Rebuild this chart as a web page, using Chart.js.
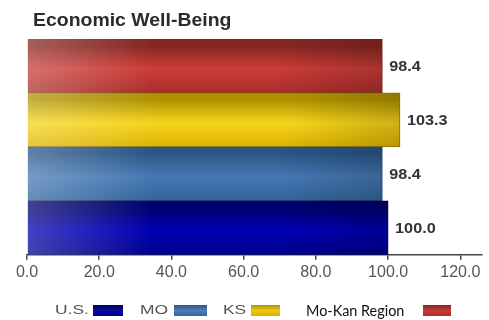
<!DOCTYPE html>
<html><head><meta charset="utf-8">
<script src="https://cdn.jsdelivr.net/npm/chart.js@4"></script>
<style>html,body{margin:0;padding:0;background:#fff}#wrap{width:489px;height:320px;position:relative}</style>
</head><body><div id="wrap"><canvas id="c"></canvas></div>
<script>
// Economic Well-Being index by area (U.S. = 100)
const categories = ['Mo-Kan Region', 'KS', 'MO', 'U.S.'];
const values = [98.4, 103.3, 98.4, 100.0];
const legendOrder = ['U.S.', 'MO', 'KS', 'Mo-Kan Region'];
const tickValues = [0, 20, 40, 60, 80, 100, 120];
const axisMax = 126;
const titleText = 'Economic Well-Being';

// shading for each bar: dark top edge, bright middle, darker bottom
const palettes = {
  'Mo-Kan Region': { top: '#862622', mid: '#cc3d38', bot: '#a82e2a', border: '#7e2420', swatch: '#c63c38' },
  'KS':            { top: '#ae9100', mid: '#f6d41c', bot: '#dcb200', border: '#9c8000', swatch: '#ecc714' },
  'MO':            { top: '#2b5586', mid: '#4579b4', bot: '#33649b', border: '#2a4f7e', swatch: '#4a7fc0' },
  'U.S.':          { top: '#00006c', mid: '#0000b6', bot: '#00008a', border: '#00006a', swatch: '#0a0a96' }
};

const FONT = "'Liberation Sans', Arial, sans-serif";

function barGradient(ctx) {
  const p = palettes[categories[ctx.dataIndex]];
  const chart = ctx.chart;
  const area = chart.chartArea;
  if (!area || !chart.scales.y) return p.mid;
  const c = chart.scales.y.getPixelForValue(ctx.dataIndex);
  const half = (area.bottom - area.top) / categories.length / 2;
  const g = chart.ctx.createLinearGradient(0, c - half, 0, c + half);
  g.addColorStop(0, p.top);
  g.addColorStop(0.12, p.top);
  g.addColorStop(0.55, p.mid);
  g.addColorStop(1, p.bot);
  return g;
}

// text drawn slightly widened horizontally
function wideText(ctx, text, x, y, sx) {
  ctx.save();
  ctx.translate(x, y);
  ctx.scale(sx, 1);
  ctx.fillText(text, 0, 0);
  ctx.restore();
}

// light sheen on the left end and darker right end of each bar
const sheen = {
  id: 'sheen',
  afterDatasetsDraw(chart) {
    const ctx = chart.ctx;
    chart.getDatasetMeta(0).data.forEach(bar => {
      const left = bar.base, right = bar.x;
      const top = bar.y - bar.height / 2, h = bar.height;
      const g = ctx.createLinearGradient(left, 0, right, 0);
      g.addColorStop(0, 'rgba(255,255,255,0.26)');
      g.addColorStop(0.35, 'rgba(255,255,255,0.0)');
      g.addColorStop(0.7, 'rgba(0,0,0,0.0)');
      g.addColorStop(1, 'rgba(0,0,0,0.16)');
      ctx.save();
      ctx.fillStyle = g;
      ctx.fillRect(left, top, right - left, h);
      ctx.restore();
    });
  }
};

// value printed just past the end of each bar
const valueLabels = {
  id: 'valueLabels',
  afterDatasetsDraw(chart) {
    const ctx = chart.ctx;
    const ds = chart.data.datasets[0];
    ctx.save();
    ctx.font = 'bold 15px ' + FONT;
    ctx.fillStyle = '#333';
    ctx.textBaseline = 'middle';
    ctx.textAlign = 'left';
    chart.getDatasetMeta(0).data.forEach((bar, i) => {
      wideText(ctx, ds.data[i].toFixed(1), bar.x + 7, bar.y + 1, 1.08);
    });
    ctx.restore();
  }
};

// heading and bottom key
const decorations = {
  id: 'decorations',
  afterDraw(chart) {
    const ctx = chart.ctx;
    ctx.save();
    ctx.font = 'bold 18px ' + FONT;
    ctx.fillStyle = '#2b2b2b';
    ctx.textBaseline = 'alphabetic';
    ctx.textAlign = 'left';
    wideText(ctx, titleText, 33, 26, 1.08);

    // key entries: label, then a colour swatch to its right
    const slots = [
      { tx: 55, sx: 93, sw: 30 },
      { tx: 140, sx: 174, sw: 33 },
      { tx: 223, sx: 251, sw: 29 },
      { tx: 306, sx: 423, sw: 28 }
    ];
    const cy = 310;
    legendOrder.forEach((name, i) => {
      const s = slots[i];
      const p = palettes[name];
      ctx.textBaseline = 'middle';
      if (name === 'Mo-Kan Region') {
        ctx.font = "16px Lato, 'Liberation Sans', sans-serif";
        ctx.fillStyle = '#111';
        wideText(ctx, name, s.tx, cy + 1, 0.9);
      } else {
        ctx.font = '13px ' + FONT;
        ctx.fillStyle = '#555';
        wideText(ctx, name, s.tx, cy, 1.34);
      }
      const g = ctx.createLinearGradient(0, cy - 5, 0, cy + 6);
      g.addColorStop(0, p.top);
      g.addColorStop(0.5, p.swatch);
      g.addColorStop(1, p.bot);
      ctx.fillStyle = g;
      ctx.fillRect(s.sx, cy - 5, s.sw, 11);
    });
    ctx.restore();
  }
};

new Chart(document.getElementById('c'), {
  type: 'bar',
  data: {
    labels: categories,
    datasets: [{
      data: values,
      backgroundColor: barGradient,
      borderColor: ctx => palettes[categories[ctx.dataIndex]].border,
      borderWidth: 1,
      barPercentage: 1,
      categoryPercentage: 1
    }]
  },
  options: {
    indexAxis: 'y',
    responsive: true,
    maintainAspectRatio: false,
    animation: false,
    devicePixelRatio: 1,
    layout: { padding: { left: 27, right: 7, top: 39, bottom: 35 } },
    plugins: {
      legend: { display: false },
      title: { display: false },
      tooltip: { enabled: false }
    },
    scales: {
      x: {
        min: 0,
        max: axisMax,
        afterBuildTicks(scale) {
          scale.ticks = tickValues.map(v => ({ value: v }));
        },
        ticks: {
          autoSkip: false,
          maxRotation: 0,
          padding: 3,
          color: '#555',
          font: { family: FONT, size: 16 },
          callback: v => Number(v).toFixed(1)
        },
        grid: { drawOnChartArea: false, drawTicks: true, tickLength: 5, color: '#444', lineWidth: 1.5 },
        border: { display: true, color: '#444', width: 1.5 }
      },
      y: { display: false }
    }
  },
  plugins: [sheen, valueLabels, decorations]
});
</script>
</body></html>
